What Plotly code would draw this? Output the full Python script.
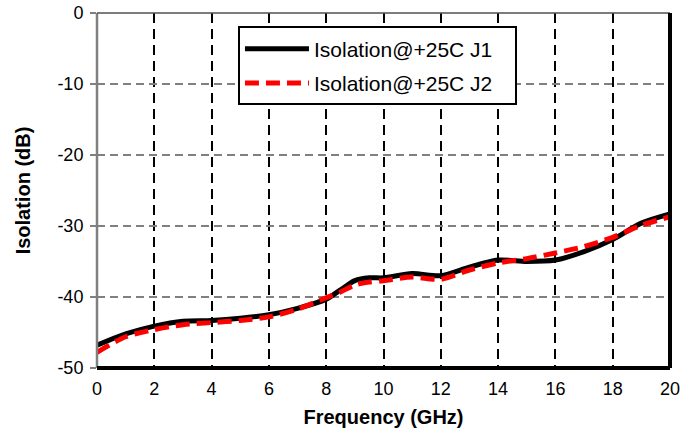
import plotly.graph_objects as go

freq = [0, 1, 2, 3, 4, 5, 6, 7, 8, 8.5, 9, 9.5, 10, 11, 12, 13, 14, 15, 16, 17, 18, 19, 20]
iso_j1 = [-46.8, -45.2, -44.1, -43.4, -43.3, -43.0, -42.5, -41.6, -40.3, -39.0, -37.7, -37.3, -37.3, -36.7, -37.0, -35.8, -34.8, -35.0, -34.8, -33.6, -31.9, -29.6, -28.3]
iso_j2 = [-47.8, -45.6, -44.6, -43.9, -43.6, -43.3, -42.8, -41.7, -40.1, -39.3, -38.3, -37.9, -37.7, -37.2, -37.5, -36.2, -35.2, -34.6, -33.8, -32.9, -31.6, -29.9, -28.7]

x_ticks = [0, 2, 4, 6, 8, 10, 12, 14, 16, 18, 20]
y_ticks = [0, -10, -20, -30, -40, -50]

FONT = "Liberation Sans, Arial, sans-serif"

fig = go.Figure()
fig.add_trace(go.Scatter(x=freq, y=iso_j1, mode="lines", name="Isolation@+25C J1&nbsp;&nbsp;&nbsp;",
                         legendgroup="a",
                         line=dict(color="black", width=5, shape="spline", smoothing=0.8)))
fig.add_trace(go.Scatter(x=freq, y=iso_j2, mode="lines", name="Isolation@+25C J2&nbsp;&nbsp;&nbsp;",
                         legendgroup="b",
                         line=dict(color="#ff0000", width=5, dash="14px,7px", shape="spline", smoothing=0.8)))

fig.update_layout(
    width=700, height=434,
    margin=dict(l=97, r=30, t=13, b=66, autoexpand=False),
    paper_bgcolor="white", plot_bgcolor="white",
    font=dict(family=FONT, size=18, color="black"),
    showlegend=True,
    legend=dict(x=0.246, y=0.962, xanchor="left", yanchor="top",
                bgcolor="white", bordercolor="black", borderwidth=2,
                font=dict(family=FONT, size=21, color="black"),
                traceorder="grouped", tracegroupgap=4, itemwidth=64),
    xaxis=dict(range=[0, 20], tickvals=x_ticks, ticktext=[str(v) for v in x_ticks],
               showgrid=True, gridcolor="black", griddash="10px,6px", gridwidth=2,
               zeroline=False, showline=False, ticks="", automargin=False,
               ticklabelstandoff=8,
               tickfont=dict(family=FONT, size=18, color="black"),
               title=dict(text="<b>Frequency (GHz)</b>", standoff=11,
                          font=dict(family=FONT, size=20, color="black"))),
    yaxis=dict(range=[-50, 0], tickvals=y_ticks, ticktext=[str(v) for v in y_ticks],
               showgrid=True, gridcolor="#808080", griddash="8px,5px", gridwidth=2,
               zeroline=False, showline=False, ticks="outside", ticklen=6, tickcolor="#808080",
               tickwidth=2, automargin=False, ticklabelstandoff=3,
               tickfont=dict(family=FONT, size=18, color="black"),
               title=dict(text="<b>Isolation (dB)</b>", standoff=21,
                          font=dict(family=FONT, size=20, color="black"))),
)

# plot-area border: gray left/top, black thick bottom/right
fig.add_shape(type="line", xref="paper", yref="paper", x0=0, x1=0, y0=0, y1=1,
              line=dict(color="#808080", width=2.5))
fig.add_shape(type="line", xref="paper", yref="paper", x0=0, x1=1, y0=1, y1=1,
              line=dict(color="#505050", width=1.5))
fig.add_shape(type="line", xref="paper", yref="paper", x0=0, x1=1, y0=0, y1=0,
              line=dict(color="black", width=4))
fig.add_shape(type="line", xref="paper", yref="paper", x0=1, x1=1, y0=0, y1=1,
              line=dict(color="black", width=4))

fig.write_html("out.html", config={"displayModeBar": False},
               post_script="document.body.style.margin='0';")
